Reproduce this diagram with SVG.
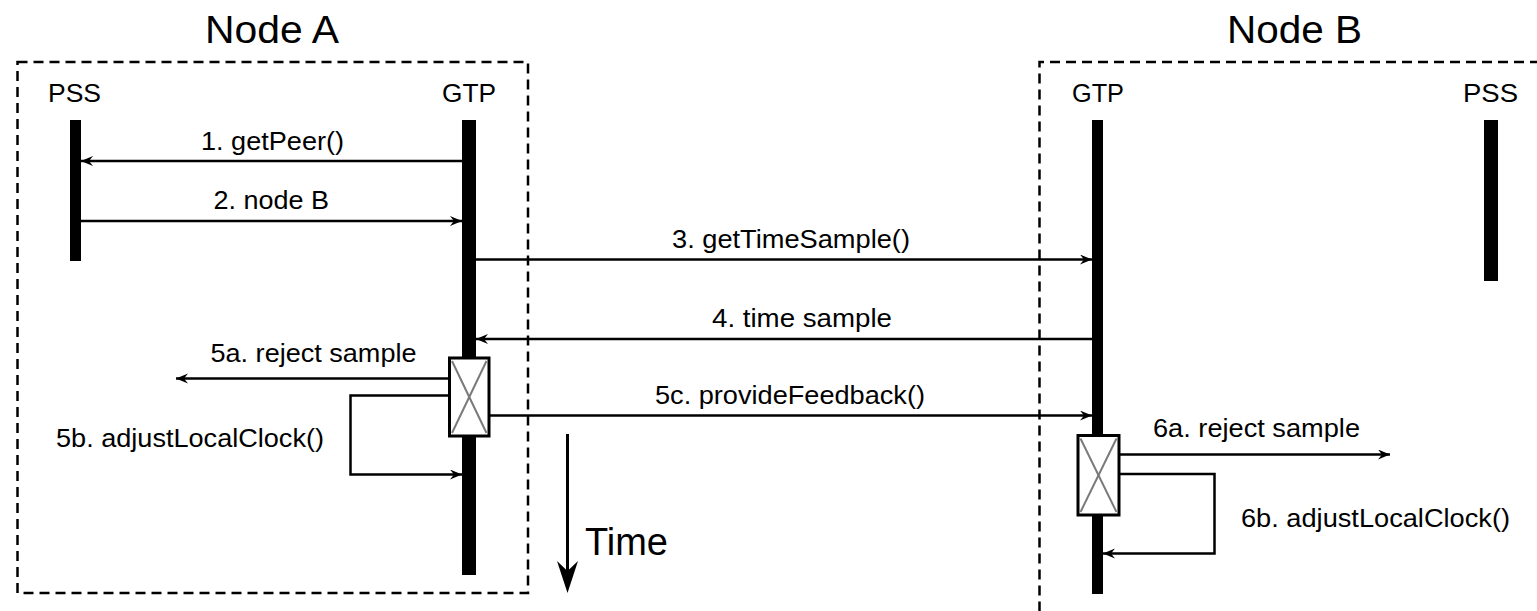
<svg xmlns="http://www.w3.org/2000/svg" width="1537" height="611" viewBox="0 0 1537 611">
<style>
  text { font-family: "Liberation Sans", Arial, Helvetica, sans-serif; fill: #000; }
  .title { font-size: 39px; }
  .life { font-size: 25px; }
  .lbl { font-size: 25px; }
  .frame { fill: none; stroke: #000; stroke-width: 2.5; stroke-dasharray: 10 6; }
  .bar { fill: #000; }
  .msg { fill: none; stroke: #000; stroke-width: 2.5; }
  .act { fill: #fff; stroke: #000; stroke-width: 3; }
  .cross { stroke: #7a7a7a; stroke-width: 2; }
</style>
<defs>
  <marker id="arr" markerUnits="userSpaceOnUse" markerWidth="14" markerHeight="12" refX="12" refY="5" orient="auto">
    <path d="M0,0 L12,5 L0,10 L4,5 z" fill="#000"/>
  </marker>
</defs>
<rect width="1537" height="611" fill="#fff"/>

<g id="nodeA">
  <text class="title" x="205" y="43" textLength="134" lengthAdjust="spacingAndGlyphs">Node A</text>
  <rect class="frame" x="17.5" y="62" width="510.5" height="531"/>
</g>
<g id="nodeB">
  <text class="title" x="1227" y="43" textLength="135" lengthAdjust="spacingAndGlyphs">Node B</text>
  <path class="frame" d="M1540,62 H1039.5 V611"/>
</g>

<g id="pssA">
  <text class="life" x="48" y="102" textLength="53" lengthAdjust="spacingAndGlyphs">PSS</text>
  <rect class="bar" x="70" y="120" width="11" height="141"/>
</g>
<g id="gtpA">
  <text class="life" x="442" y="102" textLength="54" lengthAdjust="spacingAndGlyphs">GTP</text>
  <rect class="bar" x="462" y="120" width="14" height="455"/>
</g>
<g id="gtpB">
  <text class="life" x="1072" y="102" textLength="52" lengthAdjust="spacingAndGlyphs">GTP</text>
  <rect class="bar" x="1092" y="120" width="11" height="474"/>
</g>
<g id="pssB">
  <text class="life" x="1463" y="102" textLength="55" lengthAdjust="spacingAndGlyphs">PSS</text>
  <rect class="bar" x="1484" y="120" width="14" height="161"/>
</g>

<g id="connectors">
  <line class="msg" x1="462" y1="161" x2="81" y2="161" marker-end="url(#arr)"/>
  <line class="msg" x1="81" y1="221" x2="462" y2="221" marker-end="url(#arr)"/>
  <line class="msg" x1="476" y1="259.5" x2="1092" y2="259.5" marker-end="url(#arr)"/>
  <line class="msg" x1="1092" y1="339" x2="476" y2="339" marker-end="url(#arr)"/>
  <line class="msg" x1="449" y1="378.5" x2="176" y2="378.5" marker-end="url(#arr)"/>
  <polyline class="msg" points="449,395.5 350.5,395.5 350.5,474.5 462,474.5" marker-end="url(#arr)"/>
  <line class="msg" x1="489" y1="415.5" x2="1092" y2="415.5" marker-end="url(#arr)"/>
  <line class="msg" x1="1119" y1="454.5" x2="1390" y2="454.5" marker-end="url(#arr)"/>
  <polyline class="msg" points="1119,474 1214.5,474 1214.5,553.5 1103,553.5" marker-end="url(#arr)"/>
</g>

<g id="actA">
  <rect class="act" x="449.5" y="358" width="39.5" height="78"/>
  <line class="cross" x1="452" y1="361" x2="486.5" y2="433"/>
  <line class="cross" x1="486.5" y1="361" x2="452" y2="433"/>
</g>
<g id="actB">
  <rect class="act" x="1078" y="435.5" width="41" height="79.5"/>
  <line class="cross" x1="1080.5" y1="438.5" x2="1116.5" y2="512"/>
  <line class="cross" x1="1116.5" y1="438.5" x2="1080.5" y2="512"/>
</g>

<g id="labels">
  <text class="lbl" x="201" y="150" textLength="143" lengthAdjust="spacingAndGlyphs">1. getPeer()</text>
  <text class="lbl" x="213.5" y="209" textLength="115.5" lengthAdjust="spacingAndGlyphs">2. node B</text>
  <text class="lbl" x="672" y="248" textLength="238" lengthAdjust="spacingAndGlyphs">3. getTimeSample()</text>
  <text class="lbl" x="712" y="327" textLength="180" lengthAdjust="spacingAndGlyphs">4. time sample</text>
  <text class="lbl" x="210.5" y="362" textLength="206" lengthAdjust="spacingAndGlyphs">5a. reject sample</text>
  <text class="lbl" x="655" y="404" textLength="270" lengthAdjust="spacingAndGlyphs">5c. provideFeedback()</text>
  <text class="lbl" x="56" y="447" textLength="268" lengthAdjust="spacingAndGlyphs">5b. adjustLocalClock()</text>
  <text class="lbl" x="1153" y="437" textLength="207" lengthAdjust="spacingAndGlyphs">6a. reject sample</text>
  <text class="lbl" x="1241" y="527" textLength="269" lengthAdjust="spacingAndGlyphs">6b. adjustLocalClock()</text>
</g>

<g id="time">
  <line x1="567.5" y1="434" x2="567.5" y2="576" stroke="#000" stroke-width="3"/>
  <polygon points="557,561 567.5,571 578,561 567.5,593" fill="#000"/>
  <text x="585" y="555" font-size="38" textLength="83" lengthAdjust="spacingAndGlyphs">Time</text>
</g>
</svg>
